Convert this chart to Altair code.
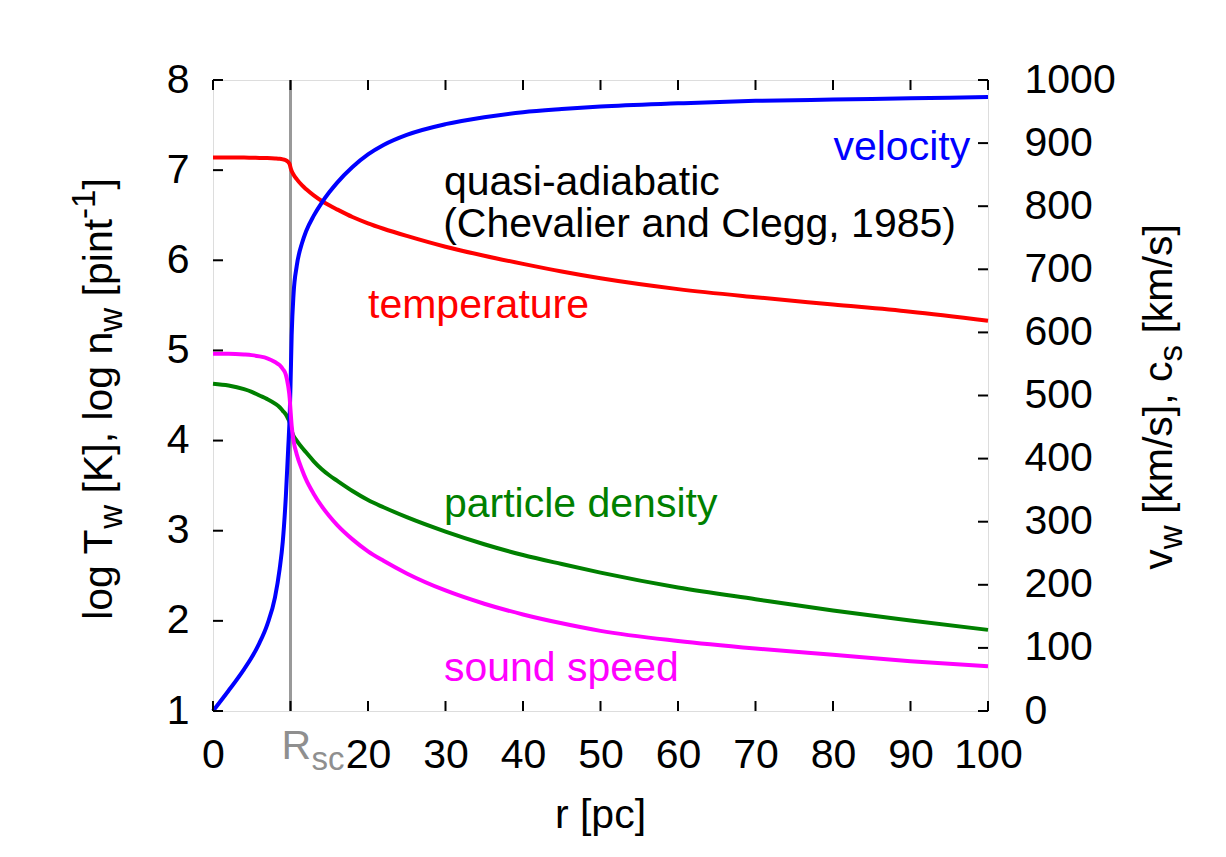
import altair as alt
import pandas as pd

# ---------------- data ----------------
r_pc = [0, 2, 4, 5, 6, 7, 8, 8.6, 9, 9.4, 9.7, 9.9, 10, 10.15, 10.4, 10.8, 11.5, 12, 13, 14,
        15, 16, 18, 20, 22, 25, 30, 35, 40, 45, 50, 60, 70, 80, 90, 100]
log_T = [7.14, 7.14, 7.14, 7.138, 7.136, 7.134, 7.13, 7.126, 7.12, 7.11, 7.09, 7.065, 7.03, 6.99,
         6.95, 6.90, 6.83, 6.79, 6.72, 6.66, 6.61, 6.565, 6.48, 6.41, 6.35, 6.27, 6.15, 6.05, 5.96,
         5.875, 5.80, 5.68, 5.59, 5.51, 5.43, 5.33]
log_n = [4.63, 4.61, 4.57, 4.54, 4.50, 4.46, 4.41, 4.37, 4.33, 4.29, 4.24, 4.20, 4.17, 4.11, 4.05,
         4.00, 3.92, 3.87, 3.77, 3.685, 3.615, 3.555, 3.44, 3.34, 3.26, 3.15, 2.99, 2.85, 2.73,
         2.63, 2.535, 2.37, 2.24, 2.115, 2.005, 1.90]
v_w = [0, 32, 66, 85, 108, 137, 180, 225, 268, 340, 415, 470, 515, 595, 662, 705, 742, 760, 785,
       805, 822, 837, 862, 882, 897, 913, 930, 941, 949, 954, 958, 963, 967, 969, 971, 973]
c_s = [566, 566, 565, 564, 562, 559, 553, 548, 542, 533, 515, 495, 477, 452, 428, 407, 382, 367,
       344, 325, 309, 295, 272, 253, 238, 218, 191, 170, 153, 139, 127, 111, 99, 89, 79, 71]

r_sc = [10]
x_ticks = [0, 10, 20, 30, 40, 50, 60, 70, 80, 90, 100]
y_left_ticks = [1, 2, 3, 4, 5, 6, 7, 8]
y_right_ticks = [0, 100, 200, 300, 400, 500, 600, 700, 800, 900, 1000]

label_text = ["quasi-adiabatic", "(Chevalier and Clegg, 1985)", "temperature",
              "particle density", "sound speed"]
label_r = [29.8, 29.7, 20.0, 29.8, 29.8]
label_y = [6.72, 6.26, 5.36, 3.15, 1.33]
label_color = ["#000000", "#000000", "#ff0000", "#008000", "#ff00ff"]

vel_text = ["velocity"]
vel_r = [97.7]
vel_y = [7.11]

# ---------------- layout / style ----------------
W, H = 775, 631
FONT = "Liberation Sans"
FS = 41
FS_S = 33
LW = 4

df = pd.DataFrame({"r": r_pc, "logT": log_T, "logn": log_n, "v": v_w, "c": c_s})
one = pd.DataFrame({"k": [0]})

xs = alt.Scale(domain=[0, 100], nice=False, zero=False)
yl = alt.Scale(domain=[1, 8], nice=False, zero=False)
yr = alt.Scale(domain=[0, 1000], nice=False, zero=False)

x_axis = alt.Axis(orient="bottom", values=x_ticks, format="d",
                  labelExpr="datum.value == 10 ? '' : datum.label",
                  ticks=False, domain=False, grid=False, labelFontSize=FS, labelPadding=24,
                  labelFlush=False, labelOverlap=False, labelColor="black",
                  labelFont=FONT, title="r [pc]", titleFontSize=FS, titleFontWeight="normal",
                  titleFont=FONT, titlePadding=20, titleX=387, titleColor="black")
yl_axis = alt.Axis(orient="left", values=y_left_ticks, format="d", ticks=False, domain=False,
                   grid=False, labelFontSize=FS, labelPadding=24, labelFlush=False,
                   labelOverlap=False, labelColor="black", labelFont=FONT, title=None)
yr_axis = alt.Axis(orient="right", values=y_right_ticks, format="d", ticks=False, domain=False,
                   grid=False, labelFontSize=FS, labelPadding=36, labelFlush=False,
                   labelOverlap=False, labelColor="black", labelFont=FONT, title=None)


def curve(col, color, yscale, xaxis=None, yaxis=None):
    return alt.Chart(df).mark_line(color=color, strokeWidth=LW, interpolate="monotone").encode(
        x=alt.X("r:Q", scale=xs, axis=xaxis),
        y=alt.Y(f"{col}:Q", scale=yscale, axis=yaxis),
    )


gray = "#8f8f8f"
rsc_df = pd.DataFrame({"r": r_sc})
rsc_line = alt.Chart(rsc_df).mark_rule(color="#999999", strokeWidth=3).encode(
    x=alt.X("r:Q", scale=xs, axis=None))

red = curve("logT", "#ff0000", yl, x_axis, yl_axis)
green = curve("logn", "#008000", yl)
blue = curve("v", "#0000ff", yr, None, yr_axis)
magenta = curve("c", "#ff00ff", yr)

# inward tick marks (gnuplot style)
xt = pd.DataFrame({"xt": x_ticks})
ylt = pd.DataFrame({"yt": y_left_ticks})
yrt = pd.DataFrame({"yt": y_right_ticks})
TK = 10
tick_style = dict(color="black", strokeWidth=2)
xt_bottom = alt.Chart(xt).mark_rule(**tick_style).encode(
    x=alt.X("xt:Q", scale=xs, axis=None), y=alt.value(H), y2=alt.value(H - TK))
xt_top = alt.Chart(xt).mark_rule(**tick_style).encode(
    x=alt.X("xt:Q", scale=xs, axis=None), y=alt.value(0), y2=alt.value(TK))
yl_ticks = alt.Chart(ylt).mark_rule(**tick_style).encode(
    y=alt.Y("yt:Q", scale=yl, axis=None), x=alt.value(0), x2=alt.value(TK))
yr_ticks = alt.Chart(yrt).mark_rule(**tick_style).encode(
    y=alt.Y("yt:Q", scale=yr, axis=None), x=alt.value(W), x2=alt.value(W - TK))

# curve labels
lab_df = pd.DataFrame({"r": label_r, "y": label_y, "t": label_text, "col": label_color})
labels = alt.Chart(lab_df).mark_text(align="left", baseline="alphabetic", fontSize=FS,
                                     font=FONT).encode(
    x=alt.X("r:Q", scale=xs, axis=None),
    y=alt.Y("y:Q", scale=yl, axis=None),
    text="t:N",
    color=alt.Color("col:N", scale=None),
)
vel_df = pd.DataFrame({"r": vel_r, "y": vel_y, "t": vel_text})
vel_label = alt.Chart(vel_df).mark_text(align="right", baseline="alphabetic", fontSize=FS,
                                        font=FONT, color="#0000ff").encode(
    x=alt.X("r:Q", scale=xs, axis=None),
    y=alt.Y("y:Q", scale=yl, axis=None),
    text="t:N",
)

# R_sc tick label
r_label = alt.Chart(rsc_df).mark_text(text="R", align="left", baseline="alphabetic",
                                      fontSize=FS, font=FONT, color=gray, dx=-9).encode(
    x=alt.X("r:Q", scale=xs, axis=None), y=alt.value(679))
sc_label = alt.Chart(rsc_df).mark_text(text="sc", align="left", baseline="alphabetic",
                                       fontSize=FS_S, font=FONT, color=gray, dx=21).encode(
    x=alt.X("r:Q", scale=xs, axis=None), y=alt.value(690))

# composite rotated axis titles with sub/superscripts
AW = {' ': 278, '[': 278, ']': 278, '(': 333, ')': 333, ',': 278, '-': 333, '/': 278,
      'K': 667, 'T': 611, 'a': 556, 'c': 500, 'g': 556, 'i': 222, 'k': 500, 'l': 222,
      'm': 833, 'n': 556, 'o': 556, 'p': 556, 's': 500, 't': 278, 'v': 500, 'w': 722, '1': 556}


def tw(s, fs):
    return sum(AW[ch] for ch in s) * fs / 1000.0


SHIFT = {"main": 0, "sub": 10, "sup": -17}


def rotated_title(pieces, base_x, center_y):
    sizes = [FS if k == "main" else FS_S for _, k in pieces]
    total = sum(tw(t, s) for (t, _), s in zip(pieces, sizes))
    y = center_y + total / 2
    marks = []
    for (t, k), s in zip(pieces, sizes):
        stripped = t.lstrip(" ")
        lead = tw(t[: len(t) - len(stripped)], s)
        marks.append(alt.Chart(one).mark_text(text=stripped, angle=270, align="left",
                                              baseline="alphabetic", fontSize=s, font=FONT,
                                              color="black").encode(
            x=alt.value(base_x + SHIFT[k]), y=alt.value(y - lead)))
        y -= tw(t, s)
    return marks


left_title = rotated_title([("log T", "main"), ("w", "sub"), (" [K], log n", "main"),
                            ("w", "sub"), (" [pint", "main"), ("-1", "sup"), ("]", "main")],
                           -101, 319)
right_title = rotated_title([("v", "main"), ("w", "sub"), (" [km/s], c", "main"),
                             ("s", "sub"), (" [km/s]", "main")], 959, 317)

chart = alt.layer(
    rsc_line, red, green, blue, magenta,
    xt_bottom, xt_top, yl_ticks, yr_ticks,
    labels, vel_label, r_label, sc_label,
    *left_title, *right_title,
).resolve_scale(y="independent").resolve_axis(x="independent", y="independent").properties(
    width=W, height=H,
    autosize=alt.AutoSizeParams(type="none"),
    padding={"left": 205, "top": 72, "right": 230, "bottom": 140},
    background="white",
).configure_view(stroke="black", strokeWidth=2).configure(font=FONT)

chart.save("out.html", embed_options={"renderer": "svg", "actions": False})
